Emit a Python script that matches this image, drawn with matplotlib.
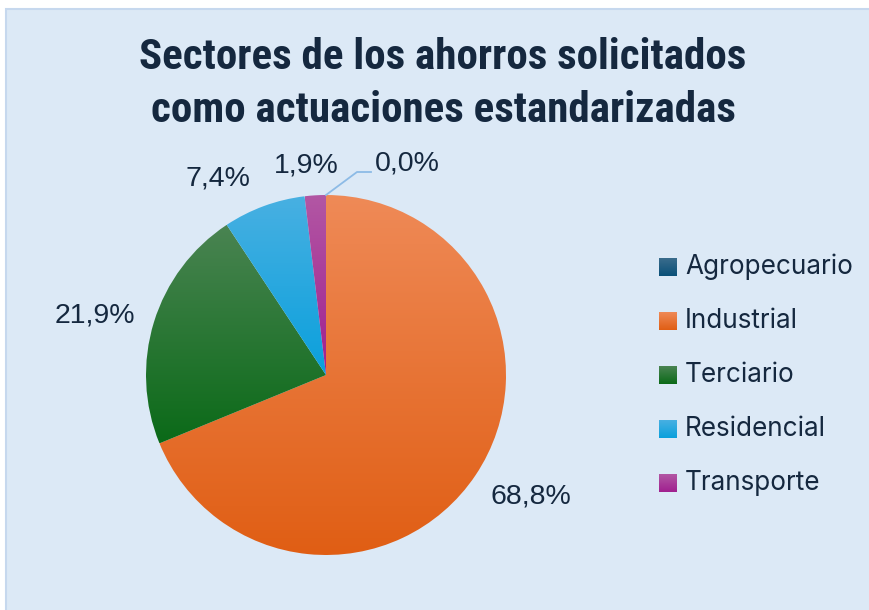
import numpy as np
import matplotlib
matplotlib.use("Agg")
import matplotlib.pyplot as plt
from matplotlib.patches import Rectangle
from matplotlib.colors import LinearSegmentedColormap

# datos del grafico
sectores = ["Agropecuario", "Industrial", "Terciario", "Residencial", "Transporte"]
valores = [0.0, 68.8, 21.9, 7.4, 1.9]
etiquetas = ["0,0%", "68,8%", "21,9%", "7,4%", "1,9%"]
titulo = "Sectores de los ahorros solicitados\ncomo actuaciones estandarizadas"

# colores (arriba claro -> abajo oscuro)
col_claro = ["#3a6c8c", "#ef8a57", "#4a8452", "#48b0e2", "#b257a4"]
col_oscuro = ["#0a5078", "#e05e14", "#0b6a18", "#0aa0dc", "#a0208f"]

W, H = 870, 610
cx, cy, R = 326, 375, 180  # centro y radio en pixeles
texto = "#15283f"

fig = plt.figure(figsize=(W / 100, H / 100), dpi=100, facecolor="white")
ax = fig.add_axes([0, 0, 1, 1])

def limites():
    ax.set_xlim(-cx / R, (W - cx) / R)
    ax.set_ylim(-(H - cy) / R, cy / R)
    ax.set_aspect("equal")
    ax.set_axis_off()

def px(x, y):
    # pixel -> datos
    return (x - cx) / R, (cy - y) / R

# fondo del area del grafico
x0, y0 = px(6, 9)
x1, y1 = px(W + 2, H + 2)
ax.add_patch(Rectangle((x0, y1), x1 - x0, y0 - y1, facecolor="#dce9f6",
                       edgecolor="#c6d8ee", linewidth=1.5, zorder=0))

wedges, _ = ax.pie(valores, startangle=90, counterclock=False, radius=1,
                   center=(0, 0), frame=True,
                   wedgeprops=dict(linewidth=0.6, edgecolor="#dce9f6"))

grad = np.linspace(0, 1, 256).reshape(-1, 1)
for w, c1, c2 in zip(wedges, col_claro, col_oscuro):
    if w.theta2 - w.theta1 < 1e-6:
        continue
    ext = w.get_path().get_extents()
    cmap = LinearSegmentedColormap.from_list("g", [c2, c1])
    w.set_facecolor("none")
    im = ax.imshow(grad, cmap=cmap, extent=(ext.x0, ext.x1, ext.y0, ext.y1),
                   origin="lower", aspect="auto", zorder=1.5)
    im.set_clip_path(w)

# etiquetas de datos
pos_etiq = [(407, 163), (531, 496), (95, 315), (218, 178), (306, 165)]
for et, (xp, yp) in zip(etiquetas, pos_etiq):
    ax.text(*px(xp, yp), et, ha="center", va="center", fontsize=20.5,
            color=texto, family=["Liberation Sans", "DejaVu Sans"])

# linea guia para 0,0%
ang = np.deg2rad(wedges[0].theta1)
lx = [np.cos(ang), px(357, 172)[0], px(371, 172)[0]]
ly = [np.sin(ang), px(357, 172)[1], px(371, 172)[1]]
ax.plot(lx, ly, color="#8dbbe6", linewidth=1.3, zorder=3)

# titulo
ax.text(*px(443, 84), titulo, ha="center", va="center", fontsize=31,
        fontweight="bold", color=texto, linespacing=1.38,
        family=["Liberation Sans Narrow", "Roboto Condensed", "Roboto", "DejaVu Sans"])

# leyenda
for i, (s, c1, c2) in enumerate(zip(sectores, col_claro, col_oscuro)):
    yc = 267 + i * 54
    lx0, ly0 = px(659, yc - 9)
    lx1, ly1 = px(677, yc + 9)
    cmap = LinearSegmentedColormap.from_list("g", [c2, c1])
    ax.imshow(grad, cmap=cmap, extent=(lx0, lx1, ly1, ly0), origin="lower",
              aspect="auto", zorder=2)
    ax.text(*px(685, yc), s, ha="left", va="center", fontsize=18.8,
            color=texto, family=["Inter", "DejaVu Sans"])

limites()
fig.savefig("out.png", dpi=100, facecolor="white")
